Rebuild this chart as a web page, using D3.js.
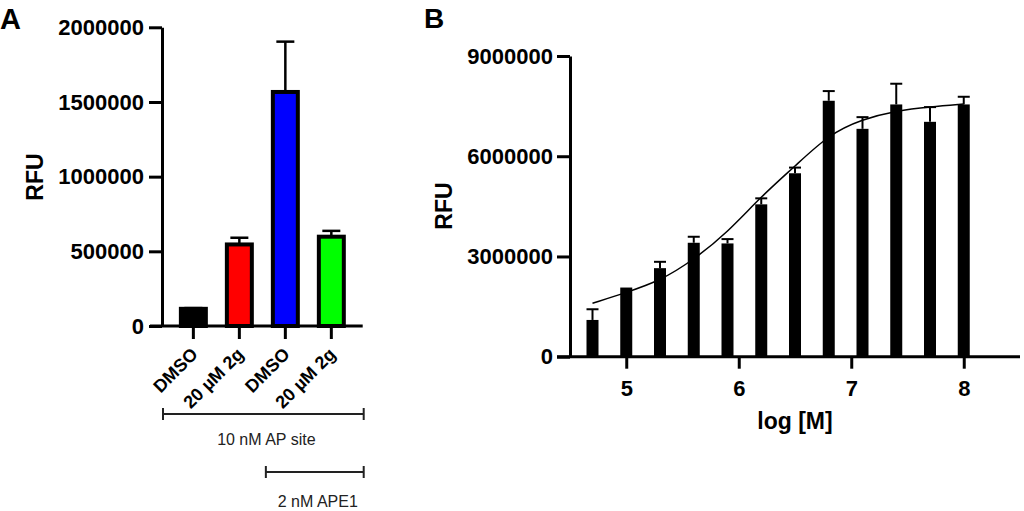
<!DOCTYPE html>
<html>
<head>
<meta charset="utf-8">
<script src="https://cdn.jsdelivr.net/npm/d3@7"></script>
<style>
  body { margin: 0; background: #fff; }
  text { font-family: "Liberation Sans", Arial, sans-serif; }
</style>
</head>
<body>
<script>
// panel A data
const catsA = ["DMSO", "20 µM 2g", "DMSO ", "20 µM 2g "];
const valsA = [115000, 546000, 1567000, 598000];
const errA = [5000, 45000, 337000, 39000];
const colorsA = ["#000000", "#ff0000", "#0000ff", "#00ff00"];
const ticksA = [0, 500000, 1000000, 1500000, 2000000];

// panel B data
const logM = [4.7, 5.0, 5.3, 5.6, 5.9, 6.2, 6.5, 6.8, 7.1, 7.4, 7.7, 8.0];
const valsB = [1100000, 2070000, 2650000, 3410000, 3390000, 4560000, 5490000, 7660000, 6820000, 7550000, 7030000, 7550000];
const errB = [320000, 0, 190000, 180000, 130000, 180000, 170000, 290000, 350000, 620000, 440000, 230000];
const fitB = [1600000, 1920000, 2270000, 2900000, 3720000, 4800000, 5700000, 6650000, 7110000, 7360000, 7480000, 7560000];
const ticksBy = [0, 3000000, 6000000, 9000000];
const ticksBx = [5, 6, 7, 8];

const svg = d3.select("body").append("svg")
  .attr("width", 1024)
  .attr("height", 511);

// ---------- panel A ----------
const xA = d3.scaleBand().domain(catsA).range([162, 362.7]).paddingInner(0.37).paddingOuter(0.367);
const yA = d3.scaleLinear().domain([0, 2000000]).range([326, 27.3]);

svg.append("text")
  .attr("x", 0).attr("y", 29)
  .attr("font-size", "29px").attr("font-weight", "bold")
  .text("A");

const yAxA = svg.append("g")
  .attr("transform", "translate(162,0)")
  .call(d3.axisLeft(yA).tickValues(ticksA).tickFormat(d3.format("d")).tickSize(13).tickPadding(5).tickSizeOuter(0));
yAxA.selectAll("path, line").attr("stroke", "#000").attr("stroke-width", 3);
yAxA.selectAll("text").attr("font-size", "22px").attr("font-weight", "bold").attr("fill", "#000")
  .attr("font-family", "Liberation Sans, Arial, sans-serif");

svg.append("text")
  .attr("transform", "translate(43,177) rotate(-90)")
  .attr("text-anchor", "middle")
  .attr("font-size", "23px").attr("font-weight", "bold")
  .text("RFU");

// bars A
svg.selectAll(".barA")
  .data(catsA)
  .enter()
  .append("rect")
  .attr("x", d => xA(d) + 2)
  .attr("width", xA.bandwidth() - 4)
  .attr("y", (d, i) => yA(valsA[i]))
  .attr("height", (d, i) => yA(0) - yA(valsA[i]))
  .attr("fill", (d, i) => colorsA[i])
  .attr("stroke", "#000")
  .attr("stroke-width", 4);

// error bars A (upper only)
catsA.forEach((c, i) => {
  const cx = xA(c) + xA.bandwidth() / 2;
  svg.append("line")
    .attr("x1", cx).attr("x2", cx)
    .attr("y1", yA(valsA[i])).attr("y2", yA(valsA[i] + errA[i]))
    .attr("stroke", "#000").attr("stroke-width", 2.5);
  svg.append("line")
    .attr("x1", cx - 9).attr("x2", cx + 9)
    .attr("y1", yA(valsA[i] + errA[i])).attr("y2", yA(valsA[i] + errA[i]))
    .attr("stroke", "#000").attr("stroke-width", 2.5);
});

const xAxA = svg.append("g")
  .attr("transform", "translate(0,326)")
  .call(d3.axisBottom(xA).tickSize(13).tickSizeOuter(0));
xAxA.select(".domain").remove();
xAxA.selectAll("line").attr("stroke", "#000").attr("stroke-width", 3);
xAxA.selectAll("text")
  .attr("font-size", "18px").attr("font-weight", "bold").attr("fill", "#000")
  .attr("font-family", "Liberation Sans, Arial, sans-serif")
  .attr("text-anchor", "end")
  .attr("x", 0).attr("y", 0).attr("dy", "0.35em")
  .attr("transform", "translate(1,25) rotate(-45)");
svg.append("line")
  .attr("x1", 150).attr("x2", xA.range()[1])
  .attr("y1", yA(0)).attr("y2", yA(0))
  .attr("stroke", "#000").attr("stroke-width", 3);

// condition brackets
const groupsA = [
  { label: "10 nM AP site", x1: xA.range()[0] + 1, y: 414, dy: 31 },
  { label: "2 nM APE1", x1: xA(catsA[2]) - 5, y: 472, dy: 35 }
];
groupsA.forEach(g => {
  const x2 = xA.range()[1] + 1;
  svg.append("line").attr("x1", g.x1).attr("x2", x2).attr("y1", g.y).attr("y2", g.y)
    .attr("stroke", "#222").attr("stroke-width", 2);
  [g.x1, x2].forEach(x => {
    svg.append("line").attr("x1", x).attr("x2", x).attr("y1", g.y - 6).attr("y2", g.y + 6)
      .attr("stroke", "#222").attr("stroke-width", 2);
  });
  svg.append("text")
    .attr("x", (g.x1 + x2) / 2 + 3).attr("y", g.y + g.dy)
    .attr("text-anchor", "middle")
    .attr("font-size", "16px").attr("fill", "#222")
    .text(g.label);
});

// ---------- panel B ----------
const xB = d3.scaleLinear().domain([4.5, 8.5]).range([570, 1020]);
const yB = d3.scaleLinear().domain([0, 9000000]).range([356.7, 56]);
const barW = 12;

svg.append("text")
  .attr("x", 424).attr("y", 28)
  .attr("font-size", "28px").attr("font-weight", "bold")
  .text("B");

const yAxB = svg.append("g")
  .attr("transform", "translate(570,0)")
  .call(d3.axisLeft(yB).tickValues(ticksBy).tickFormat(d3.format("d")).tickSize(13).tickPadding(4).tickSizeOuter(0));
yAxB.selectAll("path, line").attr("stroke", "#000").attr("stroke-width", 3);
yAxB.selectAll("text").attr("font-size", "22px").attr("font-weight", "bold").attr("fill", "#000")
  .attr("font-family", "Liberation Sans, Arial, sans-serif");

svg.append("text")
  .attr("transform", "translate(452,206) rotate(-90)")
  .attr("text-anchor", "middle")
  .attr("font-size", "23px").attr("font-weight", "bold")
  .text("RFU");

svg.selectAll(".barB")
  .data(logM)
  .enter()
  .append("rect")
  .attr("x", d => xB(d) - barW / 2)
  .attr("width", barW)
  .attr("y", (d, i) => yB(valsB[i]))
  .attr("height", (d, i) => yB(0) - yB(valsB[i]))
  .attr("fill", "#000");

logM.forEach((d, i) => {
  if (errB[i] <= 0) return;
  const cx = xB(d);
  svg.append("line")
    .attr("x1", cx).attr("x2", cx)
    .attr("y1", yB(valsB[i])).attr("y2", yB(valsB[i] + errB[i]))
    .attr("stroke", "#000").attr("stroke-width", 2);
  svg.append("line")
    .attr("x1", cx - barW / 2).attr("x2", cx + barW / 2)
    .attr("y1", yB(valsB[i] + errB[i])).attr("y2", yB(valsB[i] + errB[i]))
    .attr("stroke", "#000").attr("stroke-width", 2);
});

// fitted curve
const fitLine = d3.line()
  .x((d, i) => xB(logM[i]))
  .y(d => yB(d))
  .curve(d3.curveBasis);
svg.append("path")
  .datum(fitB)
  .attr("d", fitLine)
  .attr("fill", "none")
  .attr("stroke", "#000")
  .attr("stroke-width", 1.5);

const xAxB = svg.append("g")
  .attr("transform", "translate(0,356.7)")
  .call(d3.axisBottom(xB).tickValues(ticksBx).tickFormat(d3.format("d")).tickSize(12).tickPadding(12).tickSizeOuter(0));
xAxB.select(".domain").remove();
xAxB.selectAll("line").attr("stroke", "#000").attr("stroke-width", 3);
xAxB.selectAll("text").attr("font-size", "22px").attr("font-weight", "bold").attr("fill", "#000")
  .attr("font-family", "Liberation Sans, Arial, sans-serif");
svg.append("line")
  .attr("x1", 557).attr("x2", xB.range()[1])
  .attr("y1", yB(0)).attr("y2", yB(0))
  .attr("stroke", "#000").attr("stroke-width", 3);

svg.append("text")
  .attr("x", (xB.range()[0] + xB.range()[1]) / 2).attr("y", 429)
  .attr("text-anchor", "middle")
  .attr("font-size", "23px").attr("font-weight", "bold")
  .text("log [M]");
</script>
</body>
</html>
